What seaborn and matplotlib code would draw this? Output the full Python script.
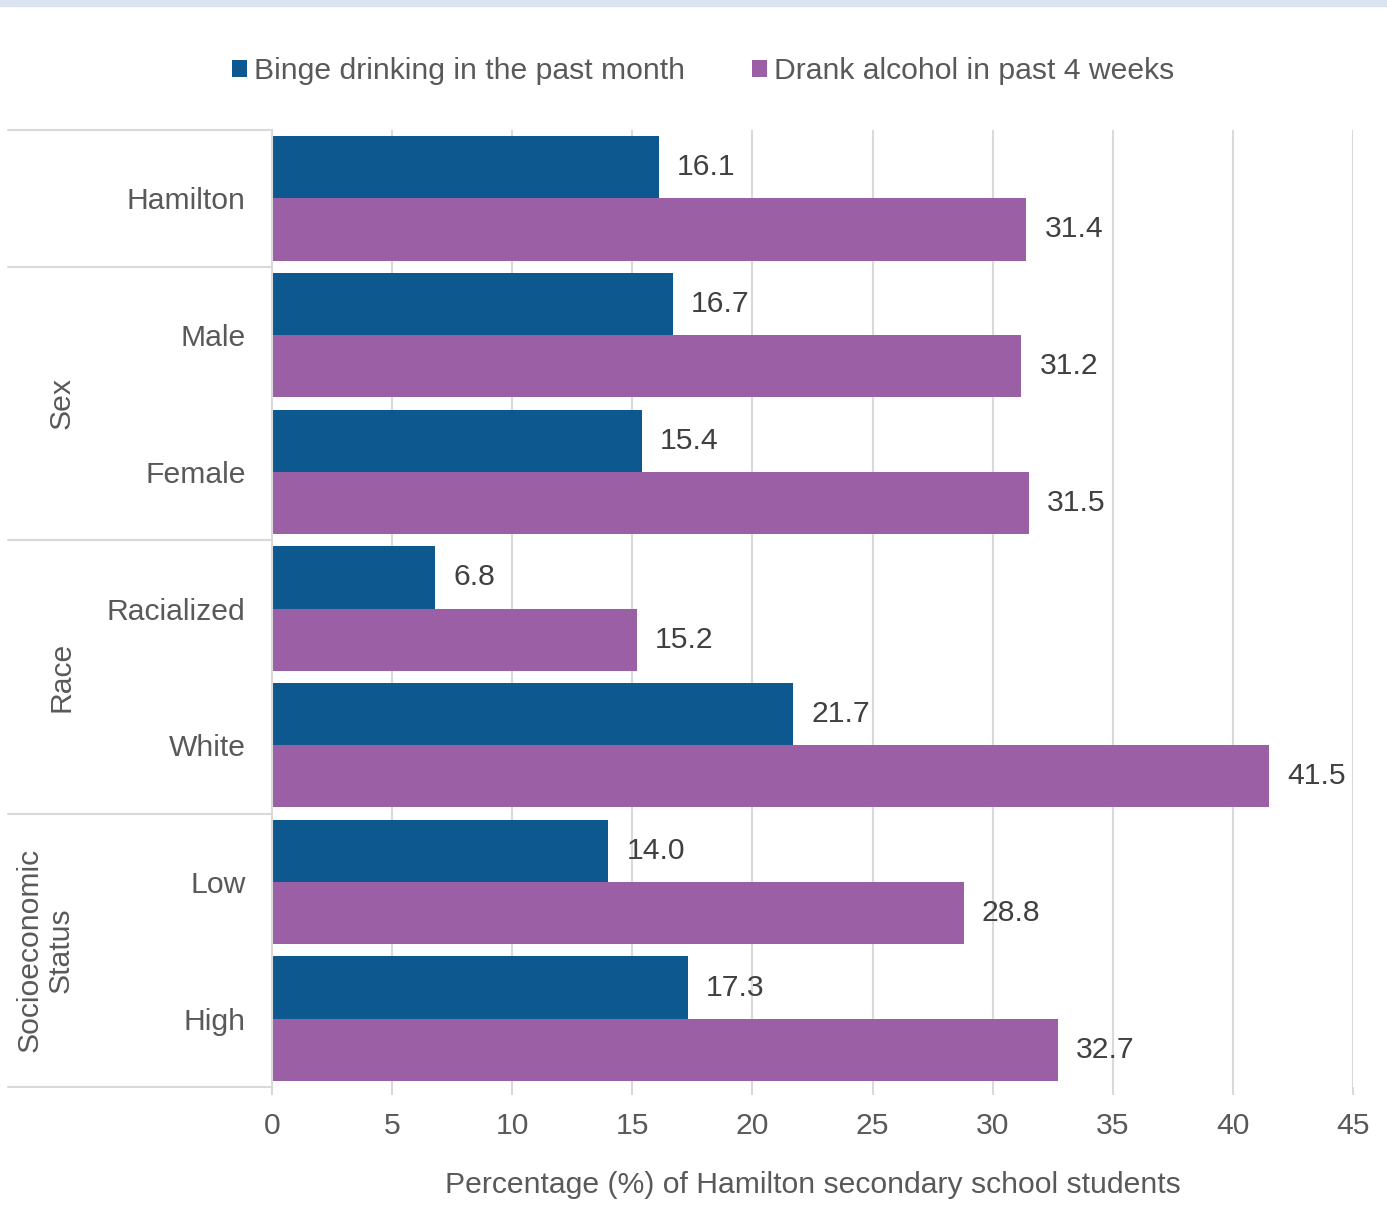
import numpy as np
import pandas as pd
import matplotlib
matplotlib.use("Agg")
import matplotlib.pyplot as plt
import matplotlib.transforms as mtransforms
from matplotlib.patches import Rectangle
import seaborn as sns

# data
categories = ["Hamilton", "Male", "Female", "Racialized", "White", "Low", "High"]
binge = [16.1, 16.7, 15.4, 6.8, 21.7, 14.0, 17.3]
drank = [31.4, 31.2, 31.5, 15.2, 41.5, 28.8, 32.7]
series = ["Binge drinking in the past month", "Drank alcohol in past 4 weeks"]
groups = [("Sex", 1, 2), ("Race", 3, 4), ("Socioeconomic\nStatus", 5, 6)]
xticks = [0, 5, 10, 15, 20, 25, 30, 35, 40, 45]

BLUE = "#0e5890"
PURPLE = "#9b5fa5"
TXT = "#595959"
GRID = "#d9d9d9"
FS = 21.7

sns.set_theme(style="white")
plt.rcParams["font.family"] = ["Liberation Sans", "DejaVu Sans"]
plt.rcParams["text.color"] = TXT

df = pd.DataFrame({
    "category": categories * 2,
    "value": binge + drank,
    "series": [series[0]] * len(categories) + [series[1]] * len(categories),
})

fig = plt.figure(figsize=(13.87, 12.22), dpi=100)
ax = fig.add_axes([272 / 1387, 1 - 1087 / 1222, 1081 / 1387, 957 / 1222])

sns.barplot(data=df, y="category", x="value", hue="series", order=categories,
            hue_order=series, palette=[BLUE, PURPLE], orient="h", width=0.91,
            saturation=1, linewidth=0, ax=ax, legend=True)

for cont in ax.containers:
    ax.bar_label(cont, fmt="%.1f", padding=13, fontsize=FS, color="#404040")

ax.set_xlim(0, 45)
ax.set_ylim(len(categories) - 0.5, -0.5)
ax.set_xticks(xticks)
ax.grid(axis="x", color=GRID, linewidth=1.5)
ax.set_axisbelow(True)
for side in ["top", "right", "bottom"]:
    ax.spines[side].set_visible(False)
ax.spines["left"].set_color(GRID)
ax.spines["left"].set_linewidth(1.5)

ax.tick_params(axis="x", length=6, width=1.5, color=GRID, pad=12,
               labelsize=FS, labelcolor=TXT, bottom=True)
ax.tick_params(axis="y", length=0, pad=19, labelsize=FS, labelcolor=TXT)
ax.set_ylabel("")
ax.set_xlabel("Percentage (%) of Hamilton secondary school students",
              fontsize=FS, color=TXT, labelpad=22)

# group separators and group labels on the left
trans = mtransforms.blended_transform_factory(ax.transAxes, ax.transData)
x_left = (8 - 272) / 1081
for yb in [-0.5, 0.5, 2.5, 4.5, 6.5]:
    ax.plot([x_left, 0], [yb, yb], color=GRID, linewidth=1.5,
            transform=trans, clip_on=False)
for name, a, b in groups:
    xpos = (62 - 272) / 1081 if "\n" not in name else (45 - 272) / 1081
    ax.text(xpos, (a + b) / 2, name, rotation=90, ha="center", va="center",
            multialignment="center", fontsize=FS, color=TXT,
            transform=trans, linespacing=1.15)

# legend
handles, labels = ax.get_legend_handles_labels()
ax.legend_.remove()
fig.legend(handles, labels, loc="center", bbox_to_anchor=(0.507, 0.942),
           ncol=2, frameon=False, fontsize=FS, handlelength=0.5,
           handleheight=0.5, handletextpad=0.25, columnspacing=2.2,
           labelcolor=TXT)

# light strip at the very top
fig.patches.append(Rectangle((0, 1 - 6 / 1222), 1, 6 / 1222,
                             transform=fig.transFigure, color="#dbe3ef",
                             zorder=0))

fig.savefig("out.png", dpi=100)
